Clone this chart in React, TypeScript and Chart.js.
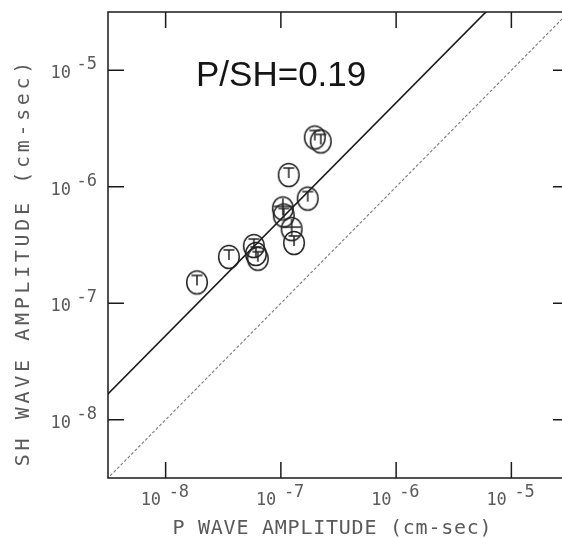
import { useEffect, useRef } from "react";
import { Chart, registerables } from "chart.js";

Chart.register(...registerables);

// Station amplitudes (cm-sec)
const P_AMP = [1.87e-8, 3.54e-8, 5.83e-8, 6.07e-8, 6.31e-8, 1.04e-7, 1.06e-7, 1.24e-7, 1.3e-7, 1.17e-7, 1.71e-7, 1.97e-7, 2.22e-7];
const SH_AMP = [1.51e-7, 2.5e-7, 3.1e-7, 2.65e-7, 2.41e-7, 6.52e-7, 5.67e-7, 4.33e-7, 3.29e-7, 1.26e-6, 7.91e-7, 2.65e-6, 2.45e-6];
const SYMBOL = ["T", "T", "T", "T", "T", "+", "T", "+", "T", "T", "T", "T", "T"];

// Fitted P/SH amplitude ratio
const RATIO = 0.19;

// Axis decades and range
const DECADES = [-8, -7, -6, -5];
const AXIS_MIN = Math.pow(10, -8.5);
const AXIS_MAX = Math.pow(10, -4.5);
const LINE_X = [1e-9, 1e-4];

const X_TITLE = "P WAVE AMPLITUDE (cm-sec)";
const Y_TITLE = "SH WAVE AMPLITUDE (cm-sec)";

const MONO = "'DejaVu Sans Mono', monospace";
const INK = "#1a1a1a";
const TEXT = "#5a5a5a";

function makeMarker(sym: string): HTMLCanvasElement {
  const c = document.createElement("canvas");
  c.width = 26;
  c.height = 28;
  const g = c.getContext("2d")!;
  g.strokeStyle = "#222";
  g.lineWidth = 1.5;
  g.beginPath();
  g.ellipse(13, 14, 10.3, 11.5, 0, 0, Math.PI * 2);
  g.stroke();
  g.beginPath();
  if (sym === "T") {
    g.moveTo(7.5, 7);
    g.lineTo(18.5, 7);
    g.moveTo(13, 7);
    g.lineTo(13, 17);
  } else {
    g.moveTo(13, 4);
    g.lineTo(13, 21);
    g.moveTo(4, 12);
    g.lineTo(22, 12);
  }
  g.stroke();
  return c;
}

function spaced(ctx: CanvasRenderingContext2D, text: string, cx: number, baseline: number, advance: number) {
  const start = cx - (text.length * advance) / 2;
  ctx.textAlign = "center";
  for (let i = 0; i < text.length; i++) {
    ctx.fillText(text[i], start + advance * (i + 0.5), baseline);
  }
}

const framePlugin = {
  id: "plotterFrame",
  afterDraw(chart: any) {
    const { ctx, chartArea: a, scales } = chart;
    const xs = scales.x;
    const ys = scales.y;
    ctx.save();
    // frame: left, bottom and top edges (the right edge runs off the sheet)
    ctx.strokeStyle = INK;
    ctx.lineWidth = 1.5;
    ctx.beginPath();
    ctx.moveTo(a.right, a.top);
    ctx.lineTo(a.left, a.top);
    ctx.lineTo(a.left, a.bottom);
    ctx.lineTo(a.right, a.bottom);
    ctx.stroke();

    // inward tick marks on all four sides
    const tl = 16;
    ctx.beginPath();
    DECADES.forEach((d) => {
      const v = Math.pow(10, d);
      const px = xs.getPixelForValue(v);
      const py = ys.getPixelForValue(v);
      ctx.moveTo(px, a.bottom);
      ctx.lineTo(px, a.bottom - tl);
      ctx.moveTo(px, a.top);
      ctx.lineTo(px, a.top + tl);
      ctx.moveTo(a.left, py);
      ctx.lineTo(a.left + tl, py);
      ctx.moveTo(a.right, py);
      ctx.lineTo(a.right - tl, py);
    });
    ctx.stroke();

    // tick labels
    ctx.fillStyle = TEXT;
    ctx.font = `17px ${MONO}`;
    ctx.textBaseline = "alphabetic";
    DECADES.forEach((d) => {
      const v = Math.pow(10, d);
      const px = xs.getPixelForValue(v);
      ctx.textAlign = "left";
      ctx.fillText("10", px - 25, 505);
      ctx.fillText(String(d), px + 3, 497);

      const py = ys.getPixelForValue(v);
      ctx.textAlign = "right";
      ctx.fillText("10", a.left - 37, py + 8);
      ctx.fillText(String(d), a.left - 11, py - 1);
    });

    // axis titles
    ctx.font = `20px ${MONO}`;
    spaced(ctx, X_TITLE, 332, 534, 12.8);
    ctx.save();
    ctx.translate(29, 264);
    ctx.rotate(-Math.PI / 2);
    spaced(ctx, Y_TITLE, 0, 0, 15.7);
    ctx.restore();

    // ratio annotation
    ctx.fillStyle = "#151515";
    ctx.font = "35px 'Liberation Sans', Arial, sans-serif";
    ctx.textAlign = "left";
    ctx.fillText(`P/SH=${RATIO}`, 196, 86);
    ctx.restore();
  },
};

export default function App() {
  const ref = useRef<HTMLCanvasElement | null>(null);

  useEffect(() => {
    const canvas = ref.current;
    if (!canvas) return;
    const markers: Record<string, HTMLCanvasElement> = { T: makeMarker("T"), "+": makeMarker("+") };
    const chart = new Chart(canvas, {
      type: "scatter",
      data: {
        datasets: [
          {
            data: P_AMP.map((p, i) => ({ x: p, y: SH_AMP[i] })),
            pointStyle: (c: any) => markers[SYMBOL[c.dataIndex]] as any,
            pointRadius: 11,
          } as any,
          {
            data: LINE_X.map((x) => ({ x, y: x / RATIO })),
            showLine: true,
            borderColor: INK,
            borderWidth: 1.6,
            pointRadius: 0,
          },
          {
            data: LINE_X.map((x) => ({ x, y: x })),
            showLine: true,
            borderColor: "#7a7a7a",
            borderWidth: 1.1,
            borderDash: [3, 2],
            pointRadius: 0,
          },
        ],
      },
      options: {
        responsive: false,
        animation: false,
        events: [],
        layout: { padding: { left: 108, top: 10, right: 21, bottom: 60 } },
        plugins: { legend: { display: false }, tooltip: { enabled: false } },
        scales: {
          x: { type: "logarithmic", min: AXIS_MIN, max: AXIS_MAX, display: false },
          y: { type: "logarithmic", min: AXIS_MIN, max: AXIS_MAX, display: false },
        },
      },
      plugins: [framePlugin],
    });
    return () => chart.destroy();
  }, []);

  return (
    <div style={{ position: "fixed", left: 0, top: 0, width: 562, height: 538, overflow: "hidden", background: "#fff" }}>
      <canvas ref={ref} width={590} height={538} style={{ display: "block" }} />
    </div>
  );
}
